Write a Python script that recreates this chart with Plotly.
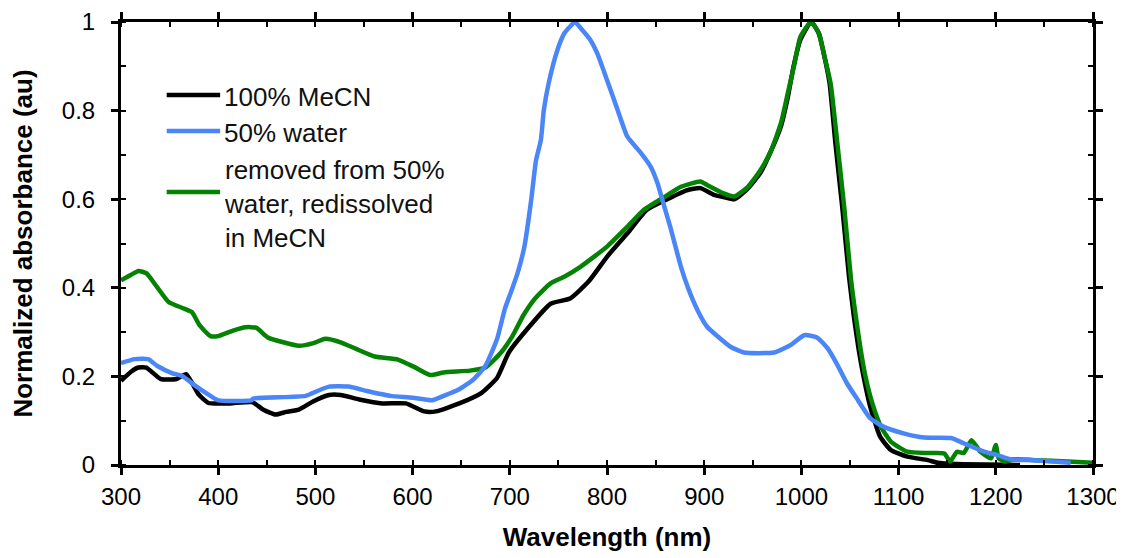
import plotly.graph_objects as go

# 100% MeCN
wl_mecn = [300, 310, 318, 326, 341, 357, 367, 380, 390, 412, 435, 447, 459, 470, 483,
           498, 514, 526, 545, 569, 593, 612, 624, 648, 671, 687, 699, 718, 742, 762,
           781, 800, 821, 841, 862, 882, 896, 910, 920, 931, 944, 958, 968, 979, 986,
           992, 999, 1010, 1018, 1023, 1029, 1035, 1042, 1049, 1054, 1059, 1064, 1071,
           1081, 1092, 1109, 1130, 1140, 1160, 1225]
abs_mecn = [0.19, 0.21, 0.22, 0.22, 0.194, 0.194, 0.205, 0.159, 0.14, 0.139, 0.142, 0.124,
            0.114, 0.12, 0.125, 0.144, 0.158, 0.158, 0.148, 0.139, 0.139, 0.121, 0.121,
            0.139, 0.163, 0.197, 0.254, 0.307, 0.364, 0.376, 0.414, 0.47, 0.523, 0.576,
            0.6, 0.62, 0.625, 0.61, 0.605, 0.6, 0.622, 0.66, 0.705, 0.765, 0.83, 0.9,
            0.96, 1.0, 0.974, 0.929, 0.862, 0.726, 0.583, 0.425, 0.335, 0.26, 0.199,
            0.13, 0.064, 0.034, 0.019, 0.011, 0.005, 0.002, 0.0]

# 50% water
wl_water = [300, 314, 328, 337, 353, 363, 377, 392, 400, 434, 436, 490, 502, 514, 534,
            553, 577, 600, 620, 632, 648, 663, 675, 687, 695, 702, 708, 715, 722, 727,
            732, 735, 740, 749, 756, 763, 767, 773, 783, 790, 800, 811, 821, 835, 845,
            852, 857, 865, 876, 883, 893, 903, 914, 927, 941, 972, 989, 1003, 1016, 1027,
            1037, 1047, 1058, 1071, 1085, 1106, 1126, 1154, 1167, 1188, 1201, 1215, 1239,
            1277]
abs_water = [0.23, 0.239, 0.239, 0.224, 0.207, 0.201, 0.178, 0.156, 0.146, 0.146, 0.15,
             0.156, 0.167, 0.177, 0.177, 0.167, 0.156, 0.152, 0.146, 0.156, 0.171, 0.194,
             0.224, 0.285, 0.353, 0.395, 0.433, 0.493, 0.598, 0.688, 0.734, 0.801, 0.862,
             0.937, 0.974, 0.992, 1.0, 0.986, 0.959, 0.929, 0.869, 0.801, 0.741, 0.704,
             0.673, 0.636, 0.598, 0.538, 0.448, 0.402, 0.35, 0.312, 0.29, 0.267, 0.254,
             0.254, 0.271, 0.293, 0.288, 0.263, 0.226, 0.184, 0.147, 0.105, 0.086, 0.071,
             0.062, 0.061, 0.049, 0.03, 0.023, 0.013, 0.011, 0.005]

# removed from 50% water, redissolved in MeCN
wl_redis = [300, 310, 318, 326, 337, 349, 365, 373, 381, 392, 400, 416, 428, 439, 451,
            467, 483, 498, 510, 526, 542, 561, 585, 601, 618, 632, 659, 675, 691, 703,
            714, 726, 742, 756, 773, 800, 821, 838, 859, 876, 896, 903, 920, 931, 945,
            958, 969, 979, 986, 993, 999, 1010, 1018, 1023, 1030, 1037, 1044, 1051, 1056,
            1061, 1066, 1073, 1082, 1092, 1109, 1130, 1147, 1153, 1160, 1167, 1175, 1184,
            1195, 1200, 1203, 1210, 1219, 1240, 1274, 1300]
abs_redis = [0.417, 0.429, 0.438, 0.433, 0.402, 0.368, 0.353, 0.345, 0.315, 0.291, 0.291,
             0.304, 0.311, 0.31, 0.288, 0.277, 0.269, 0.275, 0.285, 0.277, 0.262, 0.245,
             0.238, 0.222, 0.203, 0.209, 0.213, 0.22, 0.254, 0.292, 0.338, 0.376, 0.41,
             0.425, 0.448, 0.493, 0.538, 0.576, 0.605, 0.628, 0.64, 0.632, 0.613, 0.606,
             0.628, 0.666, 0.711, 0.772, 0.839, 0.907, 0.967, 1.0, 0.974, 0.929, 0.862,
             0.726, 0.583, 0.42, 0.335, 0.26, 0.199, 0.139, 0.086, 0.053, 0.03, 0.027,
             0.026, 0.008, 0.03, 0.027, 0.056, 0.03, 0.015, 0.045, 0.015, 0.008, 0.013,
             0.011, 0.008, 0.005]

names = ['100% MeCN', '50% water', 'removed from 50%<br>water, redissolved<br>in MeCN']
colors = ['#000000', '#4a86f7', '#048204']

FONT = 'Liberation Sans, Arial, sans-serif'

fig = go.Figure()
fig.add_trace(go.Scatter(x=wl_mecn, y=abs_mecn, mode='lines', name=names[0],
                         line=dict(color=colors[0], width=4.5, shape='spline', smoothing=0.5)))
fig.add_trace(go.Scatter(x=wl_redis, y=abs_redis, mode='lines', name=names[2],
                         line=dict(color=colors[2], width=4.5, shape='spline', smoothing=0.5)))
fig.add_trace(go.Scatter(x=wl_water, y=abs_water, mode='lines', name=names[1],
                         line=dict(color=colors[1], width=4.5, shape='spline', smoothing=0.5)))

# hand-made legend (longer sample lines than plotly's own)
legend_rows = [(0.835, 0.831, names[0], colors[0]),
               (0.754, 0.749, names[1], colors[1]),
               (0.616, 0.589, names[2], colors[2])]
for y_line, y_text, txt, col in legend_rows:
    fig.add_shape(type='line', xref='paper', yref='paper', x0=0.047, x1=0.102,
                  y0=y_line, y1=y_line, line=dict(color=col, width=4.5))
    fig.add_annotation(xref='paper', yref='paper', x=0.104, y=y_text, text=txt,
                       showarrow=False, xanchor='left', yanchor='middle', align='left',
                       font=dict(size=26, color='#111111', family=FONT))

axis_common = dict(showgrid=False, zeroline=False, color='black', automargin=False)

# page body adds an 8px offset, so margins are shifted to compensate
fig.update_layout(
    width=1124, height=558,
    margin=dict(l=113, r=39, t=14, b=101),
    paper_bgcolor='white', plot_bgcolor='white',
    showlegend=False,
    font=dict(family=FONT, size=24, color='black'),
    xaxis=dict(range=[300, 1300], dtick=100, tick0=300,
               showline=True, linewidth=3, linecolor='black', mirror='allticks',
               ticks='outside', ticklen=7, tickwidth=2.5, tickcolor='black',
               minor=dict(ticks='inside', ticklen=5, tickwidth=2, dtick=50, tick0=300,
                          tickcolor='black', showgrid=False),
               ticklabelstandoff=1,
               title=dict(text='<b>Wavelength (nm)</b>', standoff=20,
                          font=dict(size=26, family=FONT)),
               **axis_common),
    yaxis=dict(range=[0, 1], dtick=0.2,
               showline=True, linewidth=3, linecolor='black', mirror='allticks',
               ticks='outside', ticklen=7, tickwidth=2.5, tickcolor='black',
               minor=dict(ticks='inside', ticklen=5, tickwidth=2, dtick=0.1,
                          tickcolor='black', showgrid=False),
               ticklabelstandoff=11,
               title=dict(text='<b>Normalized absorbance (au)</b>', standoff=22,
                          font=dict(size=26, family=FONT)),
               **axis_common),
    # overlay axes to draw the inner half of the crossing major ticks
    xaxis2=dict(range=[300, 1300], dtick=100, tick0=300, overlaying='x', anchor='y',
                side='bottom', ticks='inside', ticklen=7, tickwidth=2.5,
                tickcolor='black', showticklabels=False, showline=False,
                mirror='allticks', **axis_common),
    yaxis2=dict(range=[0, 1], dtick=0.2, overlaying='y', anchor='x', side='left',
                ticks='inside', ticklen=7, tickwidth=2.5, tickcolor='black',
                showticklabels=False, showline=False, mirror='allticks',
                **axis_common),
)

fig.write_html("out.html")
